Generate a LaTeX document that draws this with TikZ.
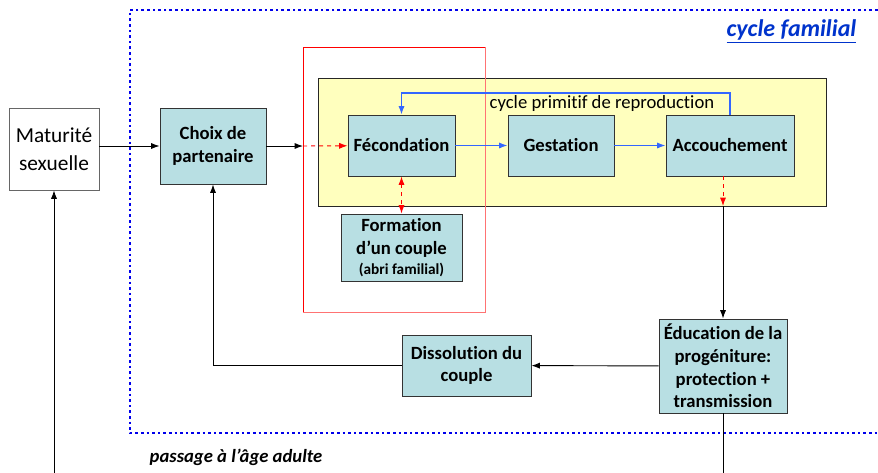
\documentclass[tikz,border=0pt]{standalone}
\usepackage{fontspec}
\setmainfont{Carlito}[Ligatures=NoCommon]
\usepackage{tikz}
\usetikzlibrary{arrows.meta,positioning}
\definecolor{teal1}{RGB}{184,223,227}
\definecolor{paleyel}{RGB}{255,255,190}
\definecolor{loopblue}{RGB}{51,102,255}
\definecolor{dotblue}{RGB}{0,0,235}
\definecolor{titleblue}{RGB}{0,51,204}

\begin{document}
\begin{tikzpicture}[x=0.75pt,y=-0.75pt,
  stage/.style={rectangle,draw=black!80,line width=0.7pt,fill=teal1,inner sep=1pt,align=center,
    font=\fontsize{14}{17}\selectfont\bfseries},
  arr/.style={-{Latex[length=2.2mm,width=1.6mm]},line width=0.7pt},
  redarr/.style={-{Latex[length=2.2mm,width=1.6mm]},red,dashed,line width=0.7pt},
  bluarr/.style={-{Latex[length=2.2mm,width=1.6mm]},loopblue,line width=0.9pt}]
  \useasboundingbox (0,0) rectangle (878,472);
  % frames
  \draw[dotblue,line width=2pt,dash pattern=on 2pt off 2.2pt] (900,10) -- (130,10) -- (130,433) -- (900,433);
  \node[titleblue,font=\fontsize{18}{20}\selectfont\bfseries\itshape,anchor=east] (fam) at (861,31) {\underline{cycle familial}};
  \draw[black!85,line width=0.6pt,fill=paleyel] (318,78) rectangle (826,206);
  \draw[red,line width=0.6pt] (485,47) -- (303,47) -- (303,312);
  \draw[red!55,line width=0.6pt] (303,312) -- (485,312) -- (485,47);
  \node[font=\fontsize{14}{17}\selectfont,anchor=west] (cyc) at (485,104) {cycle primitif de reproduction};
  % nodes
  \node[rectangle,draw=black!60,line width=0.6pt,fill=white,align=center,minimum width=67.5pt,minimum height=61.5pt,
    font=\fontsize{16}{21}\selectfont] (mat) at (54,149) {Maturité\\sexuelle};
  \node[stage,minimum width=79.5pt,minimum height=57pt] (choix) at (213,146) {Choix de\\partenaire};
  \node[stage,minimum width=80.25pt,minimum height=45.75pt] (fec) at (401.5,145.5) {Fécondation};
  \node[stage,minimum width=79.5pt,minimum height=45.75pt] (gest) at (561,145.5) {Gestation};
  \node[stage,minimum width=96pt,minimum height=45.75pt] (acc) at (730,145.5) {Accouchement};
  \node[stage,minimum width=90.75pt,minimum height=50.25pt] (form) at (401.5,247.5)
    {Formation\\d’un couple\\[-2pt]{\fontsize{11.5}{13}\selectfont(abri familial)}};
  \node[stage,minimum width=96.75pt,minimum height=45.75pt] (diss) at (466.5,365.5) {Dissolution du\\couple};
  \node[stage,minimum width=96pt,minimum height=70.5pt] (edu) at (723,366) {Éducation de la\\progéniture:\\protection +\\transmission};
  \node[font=\fontsize{14}{17}\selectfont\bfseries\itshape,anchor=west] (adulte) at (145,457) {passage à l’âge adulte};
  \coordinate (entry) at (303,146);
  \coordinate (looptop) at (0,93);
  \coordinate (ybot) at (723,206);
  % connectors
  \draw[arr] (mat.east |- choix) -- (choix);
  \draw[arr] (choix) -- (entry);
  \draw[redarr] (entry) -- (fec);
  \draw[bluarr] (fec) -- (gest);
  \draw[bluarr] (gest) -- (acc);
  \draw[bluarr] (acc.north) |- (fec.north |- looptop) -- (fec.north);
  \draw[redarr,{Latex[length=2.2mm,width=1.6mm]}-{Latex[length=2.2mm,width=1.6mm]}] (fec) -- (form);
  \draw[redarr] (acc.south -| ybot) -- (ybot);
  \draw[arr] (ybot) -- (edu);
  \draw[arr] (edu) -- (diss);
  \draw[arr] (diss) -| (choix);
  \draw[arr] (edu.south) -- ++(0,80) -| (mat);
\end{tikzpicture}
\end{document}
